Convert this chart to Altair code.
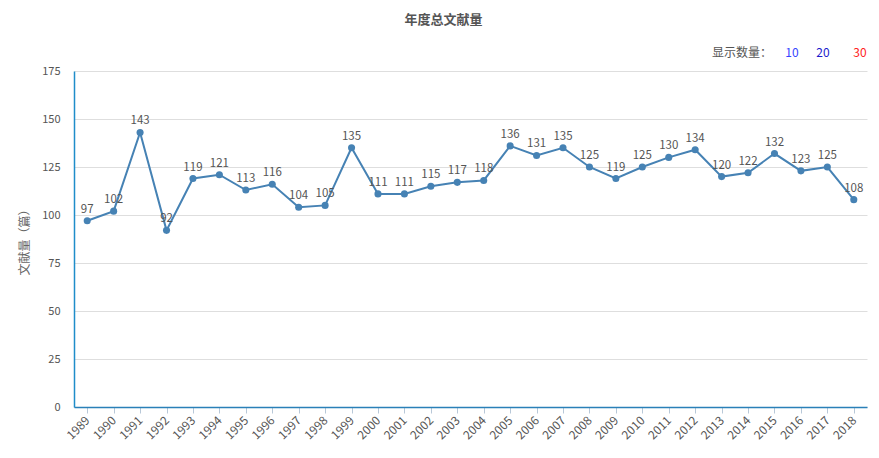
import altair as alt
import pandas as pd

years = [str(y) for y in range(1989, 2019)]
counts = [97, 102, 143, 92, 119, 121, 113, 116, 104, 105, 135, 111, 111, 115, 117,
          118, 136, 131, 135, 125, 119, 125, 130, 134, 120, 122, 132, 123, 125, 108]

legend_labels = ["显示数量：", "10", "20", "30"]
legend_colors = ["#555555", "#3344ff", "#1a1acc", "#ff2222"]
legend_x = [742, 792, 823, 860]

FONT = "Noto Sans CJK SC"
df = pd.DataFrame({"year": years, "count": counts})

xscale = alt.Scale(paddingInner=0, paddingOuter=0)
yscale = alt.Scale(domain=[0, 175])

base = alt.Chart(df)

line = base.mark_line(color="#4682b4", strokeWidth=2).encode(
    x=alt.X("year:O", scale=xscale, sort=years,
            axis=alt.Axis(title=None, orient="bottom", labels=False, ticks=True, tickSize=6,
                          tickColor="#b8c8d8", bandPosition=0, domainColor="#2a80b8",
                          domainWidth=1.5, grid=False)),
    y=alt.Y("count:Q", scale=yscale,
            axis=alt.Axis(title="文献量（篇）", values=[0, 25, 50, 75, 100, 125, 150, 175],
                          ticks=False, labelColor="#555555", labelFontSize=11, labelFont=FONT,
                          labelPadding=14, titleFont=FONT, titleFontSize=12,
                          titleFontWeight="normal", titleColor="#666666", titlePadding=10,
                          gridColor="#dedede", domainColor="#1f8dc9", domainWidth=1.5)),
)

points = base.mark_circle(color="#4682b4", size=50, opacity=1).encode(
    x=alt.X("year:O", scale=xscale, sort=years,
            axis=alt.Axis(title=None, orient="bottom", ticks=False, labelAngle=-45,
                          labelAlign="right", labelBaseline="middle", labelFont=FONT,
                          labelFontSize=12, labelColor="#555555", labelPadding=11,
                          domain=False, grid=False, bandPosition=0.5)),
    y=alt.Y("count:Q", scale=yscale),
)

labels = base.mark_text(dy=-11, fontSize=11.5, font=FONT, color="#555555").encode(
    x=alt.X("year:O", scale=xscale, sort=years, axis=None),
    y=alt.Y("count:Q", scale=yscale),
    text="count:Q",
)

legend_df = pd.DataFrame({"t": legend_labels, "c": legend_colors, "px": legend_x})
legend = alt.Chart(legend_df).mark_text(fontSize=12, font=FONT, baseline="middle",
                                        align="center").encode(
    x=alt.X("px:Q", scale=alt.Scale(domain=[74, 867], range=[0, 793]), axis=None),
    y=alt.value(-18),
    text="t:N",
    color=alt.Color("c:N", scale=None),
)

chart = alt.layer(line, points, labels, legend).resolve_axis(x="independent").resolve_scale(
    x="independent"
).properties(
    width=793, height=336,
    padding={"left": 74, "top": 71, "right": 12, "bottom": 51},
    autosize=alt.AutoSizeParams(type="none"),
    title=alt.TitleParams("年度总文献量", font=FONT, fontSize=13, fontWeight="bold",
                          color="#555555", anchor="middle", dx=-27, offset=20),
).configure_view(stroke=None).configure_axis(gridColor="#dedede")

chart.save("out.html", embed_options={"renderer": "svg", "actions": False})
